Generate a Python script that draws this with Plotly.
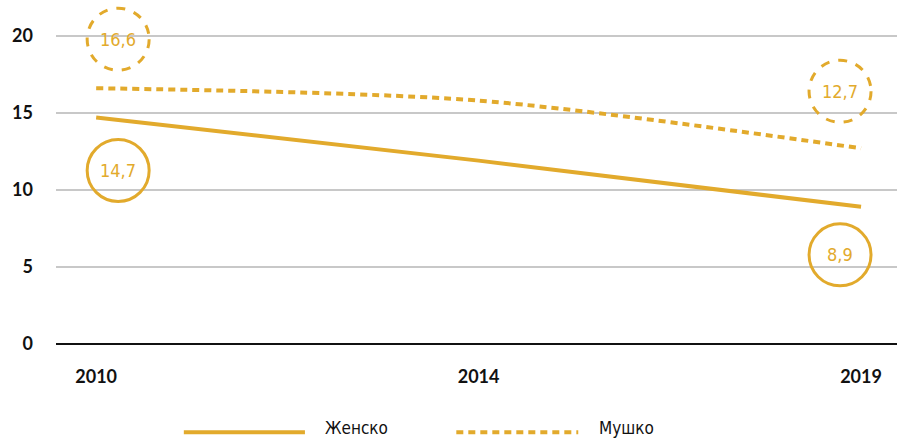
import plotly.graph_objects as go

# data
years = ["2010", "2014", "2019"]
zensko = [14.7, 11.9, 8.9]   # Женско (solid)
musko = [16.6, 15.8, 12.7]   # Мушко (dashed)
y_ticks = [0, 5, 10, 15, 20]

GOLD = "#E2AA2C"
NARROW = "Liberation Sans Narrow, DejaVu Sans Condensed, Arial Narrow, sans-serif"
TICKFONT = dict(family="Lato, Open Sans, sans-serif", size=18, color="#111111", weight=700)

fig = go.Figure()

fig.add_trace(go.Scatter(
    x=years, y=zensko, mode="lines", name="Женско",
    line=dict(color=GOLD, width=4, shape="spline", smoothing=0.6),
    showlegend=False, hoverinfo="skip"
))
fig.add_trace(go.Scatter(
    x=years, y=musko, mode="lines", name="Мушко",
    line=dict(color=GOLD, width=4, dash="7px,5px", shape="spline", smoothing=0.8),
    showlegend=False, hoverinfo="skip"
))


def fmt(v):
    return f"{v:.1f}".replace(".", ",")


R = 31
# (series, category index, dx, dy, dashed) - label circles next to end points
labels = [
    (zensko, 0, 22, -53, False),
    (zensko, 2, -21, -48, False),
    (musko, 0, 22, 49, True),
    (musko, 2, -21, 57, True),
]
for series, i, dx, dy, dashed in labels:
    fig.add_shape(
        type="circle", xref="x", yref="y",
        xsizemode="pixel", ysizemode="pixel",
        xanchor=i, yanchor=series[i],
        x0=dx - R, x1=dx + R, y0=dy - R, y1=dy + R,
        line=dict(color=GOLD, width=3, dash="dash" if dashed else "solid"),
        fillcolor="rgba(0,0,0,0)", layer="above"
    )
    fig.add_annotation(
        x=i, y=series[i], xshift=dx, yshift=dy,
        text=fmt(series[i]), showarrow=False,
        font=dict(family=NARROW, size=18, color=GOLD)
    )

# custom legend with long line samples
LEG_Y = -0.26
fig.add_shape(type="line", xref="paper", yref="paper",
              x0=0.152, x1=0.296, y0=LEG_Y, y1=LEG_Y,
              line=dict(color=GOLD, width=4))
fig.add_shape(type="line", xref="paper", yref="paper",
              x0=0.476, x1=0.621, y0=LEG_Y, y1=LEG_Y,
              line=dict(color=GOLD, width=4, dash="7px,5px"))
for xpos, name in [(0.317, "Женско"), (0.643, "Мушко")]:
    fig.add_annotation(
        xref="paper", yref="paper", x=xpos, y=LEG_Y + 0.012,
        xanchor="left", yanchor="middle", text=name, showarrow=False,
        font=dict(family=NARROW, size=17, color="#111111")
    )

fig.update_layout(
    width=897, height=440,
    margin=dict(l=56, r=0, t=5, b=96),
    plot_bgcolor="white", paper_bgcolor="white",
    showlegend=False,
    xaxis=dict(
        type="category", range=[-0.105, 2.094], automargin=False,
        showgrid=False, showline=False, zeroline=False,
        tickfont=TICKFONT, ticklabelstandoff=20, ticks=""
    ),
    yaxis=dict(
        range=[0, 22.0], tickvals=y_ticks, automargin=False,
        showgrid=True, gridcolor="#C8C8C8", gridwidth=2,
        zeroline=True, zerolinecolor="#111111", zerolinewidth=2,
        showline=False, tickfont=TICKFONT, ticklabelstandoff=22, ticks=""
    ),
)

fig.write_html(
    "out.html",
    config={"displayModeBar": False},
    post_script="document.body.style.margin='0';document.body.style.overflow='hidden';"
)
